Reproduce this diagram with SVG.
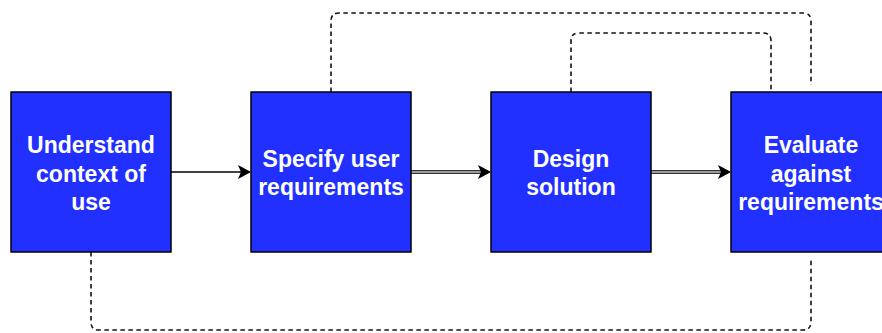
<svg xmlns="http://www.w3.org/2000/svg" width="882" height="333" viewBox="0 0 882 333">
<style>
.box{fill:#2130FF;stroke:#000;stroke-width:1.5}
.lbl{font-family:"Liberation Sans",Arial,sans-serif;font-weight:bold;font-size:23px;fill:#fff;text-anchor:middle}
.dash{fill:none;stroke:#111;stroke-width:1.6;stroke-dasharray:4.5 3.5}
.solid{fill:none;stroke:#000;stroke-width:1.5}
.grayo{fill:none;stroke:#333;stroke-width:4}
.grayi{fill:none;stroke:#9a9a9a;stroke-width:2}
.head{fill:#000}
</style>
<rect width="882" height="333" fill="#fff"/>
<g id="connectors">
<path class="dash" d="M331,92 V21 Q331,13 339,13 H803 Q811,13 811,21 V85"/>
<path class="dash" d="M571,92 V41 Q571,33 579,33 H763 Q771,33 771,41 V92"/>
<path class="dash" d="M91,252 V322 Q91,330 99,330 H803 Q811,330 811,322 V258"/>
<path class="solid" d="M171,172 H242"/>
<path class="head" d="M238,165 L251,172 L238,179 L241,172 Z"/>
<path class="grayo" d="M411,172 H482"/>
<path class="grayi" d="M411,172 H482"/>
<path class="head" d="M478,165 L491,172 L478,179 L481,172 Z"/>
<path class="grayo" d="M651,172 H722"/>
<path class="grayi" d="M651,172 H722"/>
<path class="head" d="M718,165 L731,172 L718,179 L721,172 Z"/>
</g>
<g id="node1">
<rect class="box" x="11" y="92" width="160" height="160"/>
<text class="lbl" x="91" y="153">Understand</text>
<text class="lbl" x="91" y="181.5">context of</text>
<text class="lbl" x="91" y="210">use</text>
</g>
<g id="node2">
<rect class="box" x="251" y="92" width="160" height="160"/>
<text class="lbl" x="331" y="167">Specify user</text>
<text class="lbl" x="331" y="194.5">requirements</text>
</g>
<g id="node3">
<rect class="box" x="491" y="92" width="160" height="160"/>
<text class="lbl" x="571" y="167">Design</text>
<text class="lbl" x="571" y="194.5">solution</text>
</g>
<g id="node4">
<rect class="box" x="731" y="92" width="160" height="160"/>
<text class="lbl" x="811" y="153">Evaluate</text>
<text class="lbl" x="811" y="181.5">against</text>
<text class="lbl" x="811" y="210">requirements</text>
</g>
</svg>
